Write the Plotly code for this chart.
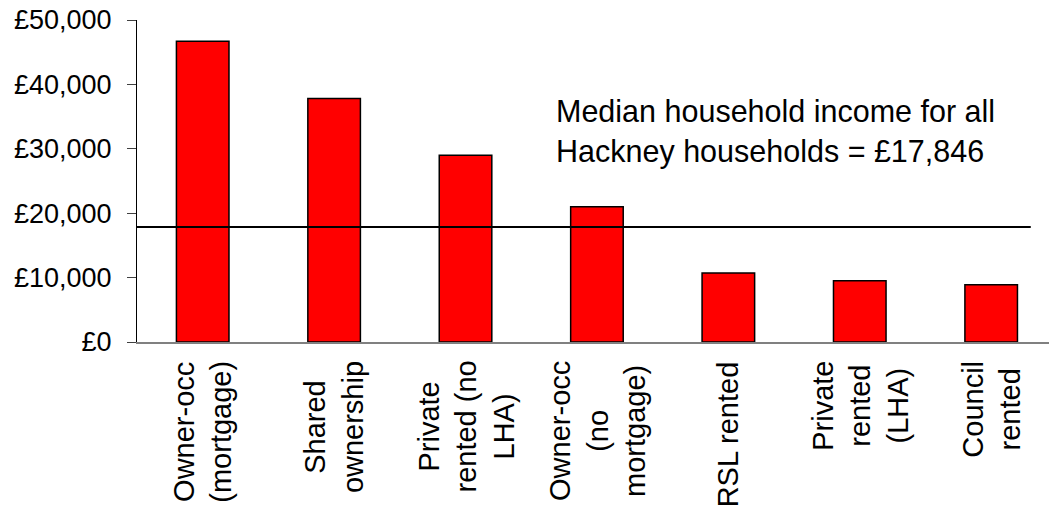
import plotly.graph_objects as go

categories = [
    "Owner-occ<br>(mortgage)",
    "Shared<br>ownership",
    "Private<br>rented (no<br>LHA)",
    "Owner-occ<br>(no<br>mortgage)",
    "RSL rented",
    "Private<br>rented<br>(LHA)",
    "Council<br>rented",
]
median_income = [46700, 37800, 29000, 21000, 10700, 9500, 8900]
all_households_median = 17846
y_tick_values = [0, 10000, 20000, 30000, 40000, 50000]
y_tick_labels = ["£0", "£10,000", "£20,000", "£30,000", "£40,000", "£50,000"]
note_text = "Median household income for all<br>Hackney households = £17,846"

FONT = "Liberation Sans, Arial, sans-serif"

fig = go.Figure()
fig.add_trace(go.Bar(
    x=categories,
    y=median_income,
    width=0.4,
    marker=dict(color="#FF0000", line=dict(color="black", width=1.5)),
    showlegend=False,
))

fig.add_shape(type="line", xref="paper", yref="y",
              x0=0, x1=0.98, y0=all_households_median, y1=all_households_median,
              line=dict(color="black", width=2))

for c in categories:
    fig.add_annotation(x=c, xref="x", y=0, yref="paper", yanchor="top",
                       xanchor="center", yshift=-17, text=c, textangle=-90,
                       align="center", showarrow=False,
                       font=dict(family=FONT, size=29, color="black"))

fig.add_annotation(x=0.457, xref="paper", y=0.775, yref="paper",
                   xanchor="left", yanchor="top", text=note_text, align="left",
                   showarrow=False, font=dict(family=FONT, size=30.5, color="black"))

fig.update_layout(
    width=1049, height=511,
    margin=dict(l=137, r=0, t=20, b=169),
    paper_bgcolor="white", plot_bgcolor="white",
    font=dict(family=FONT, size=27, color="black"),
    bargap=0.6,
)
fig.update_xaxes(
    range=[-0.5, 6.44], showticklabels=False, ticks="",
    showline=True, linecolor="#808080", linewidth=1.5, showgrid=False,
    zeroline=False,
)
fig.update_yaxes(
    range=[0, 50000], tickvals=y_tick_values, ticktext=y_tick_labels,
    ticks="outside", ticklen=9, tickcolor="#404040", tickwidth=1,
    showline=True, linecolor="black", linewidth=1, showgrid=False,
    zeroline=False, ticklabelstandoff=10,
    tickfont=dict(family=FONT, size=27, color="black"),
)

fig.write_html("out.html")
